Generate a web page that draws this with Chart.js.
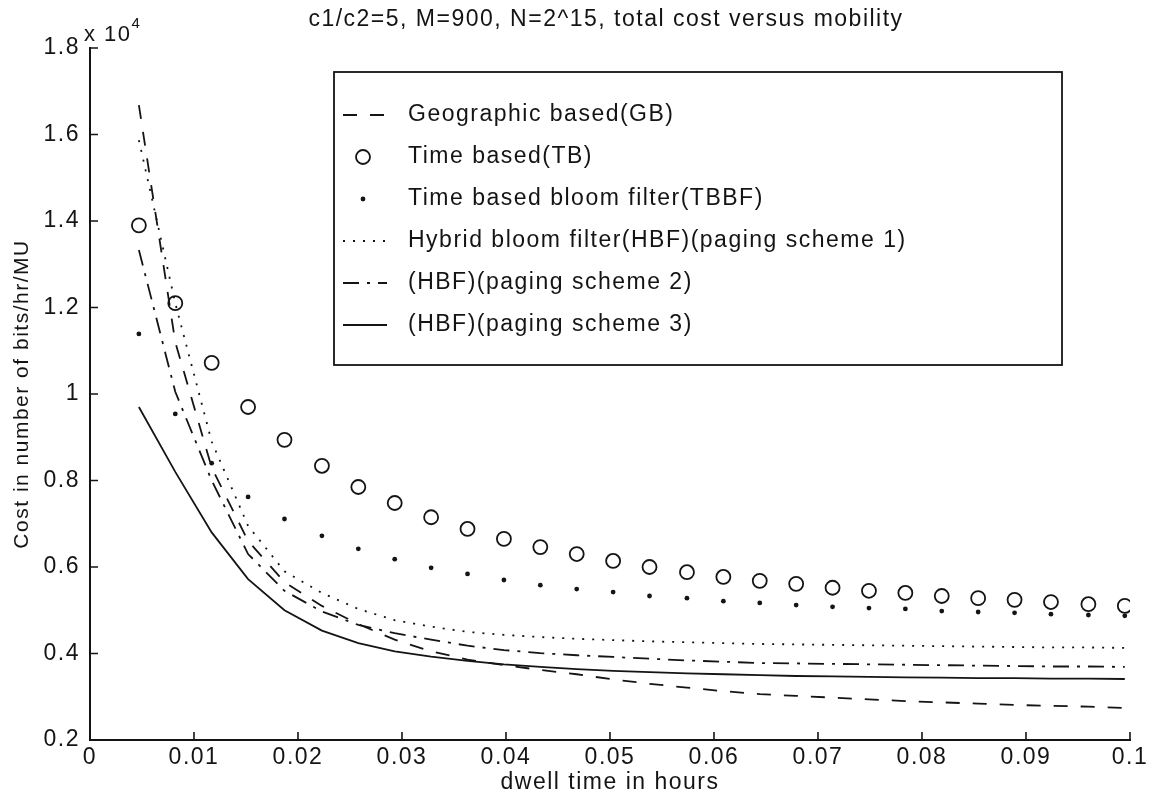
<!DOCTYPE html>
<html>
<head>
<meta charset="utf-8">
<script src="https://cdn.jsdelivr.net/npm/chart.js@4.4.1/dist/chart.umd.min.js"></script>
<style>
  html, body { margin: 0; padding: 0; background: #ffffff; }
  #wrap { width: 1159px; height: 796px; position: relative; }
</style>
</head>
<body>
<div id="wrap"><canvas id="c" width="1159" height="796"></canvas></div>
<script>
// ---------------- data ----------------
const dwellTime = [0.0047, 0.0082, 0.0117, 0.0152, 0.0187, 0.0223, 0.0258, 0.0293, 0.0328, 0.0363,
                   0.0398, 0.0433, 0.0468, 0.0503, 0.0538, 0.0574, 0.0609, 0.0644, 0.0679, 0.0714,
                   0.0749, 0.0784, 0.0819, 0.0854, 0.0889, 0.0924, 0.0960, 0.0995];

// costs in units of 10^4 bits/hr/MU
const gbCost   = [1.668, 1.120, 0.830, 0.660, 0.565, 0.510, 0.468, 0.432, 0.405, 0.386,
                  0.373, 0.362, 0.352, 0.340, 0.330, 0.321, 0.313, 0.306, 0.302, 0.298,
                  0.294, 0.290, 0.287, 0.284, 0.281, 0.279, 0.277, 0.274];
const tbCost   = [1.390, 1.210, 1.072, 0.970, 0.894, 0.834, 0.785, 0.748, 0.715, 0.688,
                  0.665, 0.646, 0.630, 0.614, 0.600, 0.588, 0.577, 0.568, 0.561, 0.552,
                  0.545, 0.540, 0.533, 0.528, 0.524, 0.519, 0.514, 0.510];
const tbbfCost = [1.139, 0.954, 0.840, 0.762, 0.711, 0.672, 0.642, 0.618, 0.598, 0.584,
                  0.570, 0.558, 0.549, 0.542, 0.533, 0.528, 0.521, 0.517, 0.512, 0.508,
                  0.505, 0.503, 0.498, 0.496, 0.494, 0.491, 0.489, 0.487];
const hbf1Cost = [1.587, 1.210, 0.890, 0.695, 0.590, 0.540, 0.503, 0.477, 0.462, 0.450,
                  0.443, 0.438, 0.434, 0.431, 0.428, 0.426, 0.424, 0.422, 0.421, 0.420,
                  0.419, 0.418, 0.417, 0.416, 0.415, 0.414, 0.414, 0.413];
const hbf2Cost = [1.333, 1.005, 0.800, 0.630, 0.545, 0.497, 0.466, 0.447, 0.432, 0.418,
                  0.408, 0.401, 0.396, 0.392, 0.388, 0.384, 0.381, 0.378, 0.377, 0.376,
                  0.375, 0.374, 0.373, 0.372, 0.371, 0.370, 0.370, 0.369];
const hbf3Cost = [0.970, 0.820, 0.680, 0.572, 0.500, 0.453, 0.424, 0.405, 0.393, 0.383,
                  0.375, 0.369, 0.364, 0.360, 0.357, 0.354, 0.352, 0.350, 0.348, 0.347,
                  0.346, 0.345, 0.344, 0.343, 0.343, 0.342, 0.342, 0.341];

const seriesLabels = [
  'Geographic based(GB)',
  'Time based(TB)',
  'Time based bloom filter(TBBF)',
  'Hybrid bloom filter(HBF)(paging scheme 1)',
  '(HBF)(paging scheme 2)',
  '(HBF)(paging scheme 3)'
];

const xTickValues = [0, 0.01, 0.02, 0.03, 0.04, 0.05, 0.06, 0.07, 0.08, 0.09, 0.1];
const xTickLabels = ['0', '0.01', '0.02', '0.03', '0.04', '0.05', '0.06', '0.07', '0.08', '0.09', '0.1'];
const yTickValues = [0.2, 0.4, 0.6, 0.8, 1.0, 1.2, 1.4, 1.6, 1.8];
const yTickLabels = ['0.2', '0.4', '0.6', '0.8', '1', '1.2', '1.4', '1.6', '1.8'];

const chartTitle = 'c1/c2=5, M=900, N=2^15, total cost versus mobility';
const xAxisTitle = 'dwell time in hours';
const yAxisTitle = 'Cost in number of bits/hr/MU';
const exponentBase = 'x 10';
const exponentPower = '4';

// ---------------- styling ----------------
const INK = '#141414';
const FONT = '"Liberation Sans", Arial, Helvetica, sans-serif';
const LETTER_SPACING = '1.5px';

function pts(ys) { return dwellTime.map((x, i) => ({ x: x, y: ys[i] })); }

const lineBase = { borderColor: INK, backgroundColor: INK, borderWidth: 1.8, pointRadius: 0, tension: 0, fill: false };

const datasets = [
  Object.assign({}, lineBase, { label: seriesLabels[0], data: pts(gbCost), borderDash: [14, 13] }),
  { label: seriesLabels[1], data: pts(tbCost), showLine: false, pointStyle: 'circle', pointRadius: 7,
    pointBorderWidth: 1.8, borderColor: INK, pointBorderColor: INK, pointBackgroundColor: 'rgba(0,0,0,0)', backgroundColor: 'rgba(0,0,0,0)' },
  { label: seriesLabels[2], data: pts(tbbfCost), showLine: false, pointStyle: 'circle', pointRadius: 2.4,
    pointBorderWidth: 0, borderColor: INK, pointBackgroundColor: INK, backgroundColor: INK },
  Object.assign({}, lineBase, { label: seriesLabels[3], data: pts(hbf1Cost), borderDash: [2, 8] }),
  Object.assign({}, lineBase, { label: seriesLabels[4], data: pts(hbf2Cost), borderDash: [16, 8, 3, 8] }),
  Object.assign({}, lineBase, { label: seriesLabels[5], data: pts(hbf3Cost), borderDash: [] })
];

// slightly wide, scanned-looking lettering
const spacingPlugin = {
  id: 'spacing',
  beforeUpdate(chart) { chart.ctx.letterSpacing = LETTER_SPACING; },
  beforeDraw(chart) { chart.ctx.letterSpacing = LETTER_SPACING; }
};

// ---------------- decoration plugin: inward ticks, title, exponent, legend box ----------------
const decorPlugin = {
  id: 'decor',
  afterDraw(chart) {
    const ctx = chart.ctx;
    const xs = chart.scales.x, ys = chart.scales.y;
    const ca = chart.chartArea;
    ctx.save();
    ctx.letterSpacing = LETTER_SPACING;
    // inward tick marks
    ctx.strokeStyle = INK;
    ctx.lineWidth = 1.6;
    ctx.setLineDash([]);
    ctx.beginPath();
    xTickValues.forEach(v => {
      const px = xs.getPixelForValue(v);
      ctx.moveTo(px, ca.bottom);
      ctx.lineTo(px, ca.bottom - 8);
    });
    yTickValues.forEach(v => {
      const py = ys.getPixelForValue(v);
      ctx.moveTo(ca.left, py);
      ctx.lineTo(ca.left + 8, py);
    });
    ctx.stroke();

    // chart title
    ctx.fillStyle = INK;
    ctx.font = '23px ' + FONT;
    ctx.textAlign = 'center';
    ctx.textBaseline = 'middle';
    ctx.fillText(chartTitle, (ca.left + ca.right) / 2 - 4, 20);

    // exponent label
    ctx.textAlign = 'left';
    ctx.textBaseline = 'alphabetic';
    ctx.font = '22px ' + FONT;
    ctx.fillText(exponentBase, ca.left - 6, 41);
    const w = ctx.measureText(exponentBase).width;
    ctx.font = '15px ' + FONT;
    ctx.fillText(exponentPower, ca.left - 6 + w, 28);

    // legend box
    const bx = 334, by = 72, bw = 728, bh = 293;
    ctx.lineWidth = 1.8;
    ctx.strokeStyle = INK;
    ctx.fillStyle = '#ffffff';
    ctx.fillRect(bx, by, bw, bh);
    ctx.strokeRect(bx, by, bw, bh);

    const rowY0 = 115, rowStep = 42;
    const sx0 = 343, sx1 = 387, textX = 408;
    chart.data.datasets.forEach((ds, i) => {
      const y = rowY0 + i * rowStep;
      ctx.save();
      if (ds.showLine === false) {
        ctx.beginPath();
        ctx.arc((sx0 + sx1) / 2 - 2, y, ds.pointRadius, 0, Math.PI * 2);
        if (ds.pointBorderWidth > 0) {
          ctx.lineWidth = ds.pointBorderWidth;
          ctx.strokeStyle = ds.pointBorderColor;
          ctx.stroke();
        } else {
          ctx.fillStyle = ds.pointBackgroundColor;
          ctx.fill();
        }
      } else {
        ctx.lineWidth = ds.borderWidth;
        ctx.strokeStyle = ds.borderColor;
        ctx.setLineDash(ds.borderDash || []);
        ctx.beginPath();
        ctx.moveTo(sx0, y);
        ctx.lineTo(sx1, y);
        ctx.stroke();
      }
      ctx.restore();
      ctx.fillStyle = INK;
      ctx.font = '23px ' + FONT;
      ctx.textAlign = 'left';
      ctx.textBaseline = 'middle';
      ctx.fillText(ds.label, textX, y);
    });
    ctx.restore();
  }
};

new Chart(document.getElementById('c'), {
  type: 'line',
  data: { datasets: datasets },
  options: {
    responsive: false,
    animation: false,
    devicePixelRatio: 1,
    layout: { padding: { top: 48, right: 29, bottom: 0, left: 0 } },
    plugins: {
      legend: { display: false },
      title: { display: false },
      tooltip: { enabled: false }
    },
    scales: {
      x: {
        type: 'linear',
        min: 0,
        max: 0.1,
        afterBuildTicks: (scale) => { scale.ticks = xTickValues.map(v => ({ value: v })); },
        afterFit: (scale) => { scale.height = 56; },
        grid: { display: false, drawTicks: false },
        border: { display: true, color: INK, width: 2 },
        ticks: {
          color: INK,
          font: { family: FONT, size: 23 },
          padding: 4,
          maxRotation: 0,
          autoSkip: false,
          callback: (value) => { const k = xTickValues.indexOf(value); return k >= 0 ? xTickLabels[k] : ''; }
        },
        title: {
          display: true,
          text: xAxisTitle,
          color: INK,
          font: { family: FONT, size: 23 },
          padding: { top: 0, bottom: 0 }
        }
      },
      y: {
        type: 'linear',
        min: 0.2,
        max: 1.8,
        afterBuildTicks: (scale) => { scale.ticks = yTickValues.map(v => ({ value: v })); },
        afterFit: (scale) => { scale.width = 90; },
        grid: { display: false, drawTicks: false },
        border: { display: true, color: INK, width: 2 },
        ticks: {
          color: INK,
          font: { family: FONT, size: 23 },
          padding: 10,
          autoSkip: false,
          callback: (value) => {
            const k = yTickValues.findIndex(v => Math.abs(v - value) < 1e-9);
            return k >= 0 ? yTickLabels[k] : '';
          }
        },
        title: {
          display: true,
          text: yAxisTitle,
          color: INK,
          font: { family: FONT, size: 21 },
          padding: { top: 10, bottom: 0 }
        }
      }
    }
  },
  plugins: [spacingPlugin, decorPlugin]
});
</script>
</body>
</html>
